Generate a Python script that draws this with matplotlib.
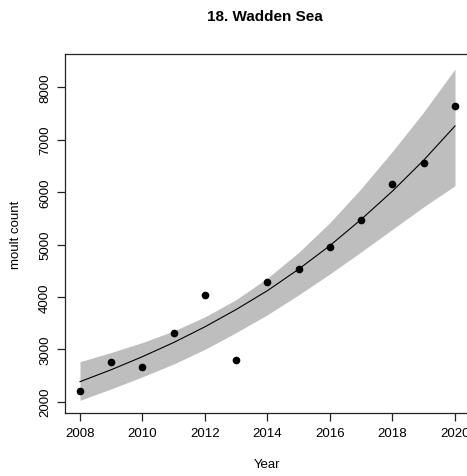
import matplotlib

matplotlib.use("Agg")

import matplotlib.pyplot as plt

plt.rcParams["font.family"] = ["Liberation Sans", "DejaVu Sans"]

YEARS = [2008, 2009, 2010, 2011, 2012, 2013, 2014, 2015, 2016, 2017, 2018, 2019, 2020]
MOULT_COUNT = [2204, 2758, 2656, 3311, 4042, 2796, 4284, 4532, 4958, 5462, 6160, 6550, 7637]
FIT = [2382, 2610, 2860, 3130, 3430, 3760, 4120, 4530, 4980, 5480, 6020, 6610, 7262]
FIT_LOWER = [2025, 2245, 2475, 2720, 3000, 3320, 3660, 4040, 4440, 4860, 5290, 5720, 6122]
FIT_UPPER = [2763, 2940, 3130, 3350, 3620, 3950, 4360, 4850, 5420, 6070, 6780, 7530, 8349]
X_TICKS = [2008, 2010, 2012, 2014, 2016, 2018, 2020]
Y_TICKS = [2000, 3000, 4000, 5000, 6000, 7000, 8000]

fig = plt.figure(figsize=(4.67, 4.77), dpi=100)
ax = fig.add_axes([65 / 467, 63 / 477, 405 / 467, 359 / 477])

ax.fill_between(YEARS, FIT_LOWER, FIT_UPPER, color="#bebebe", linewidth=0)
ax.plot(YEARS, FIT, color="black", linewidth=0.8)
ax.plot(YEARS, MOULT_COUNT, "o", color="black", markersize=4.5)

ax.set_xlim(2007.52, 2020.48)
ax.set_ylim(1784, 8636)
ax.set_xticks(X_TICKS)
ax.set_yticks(Y_TICKS)
ax.set_yticklabels([str(v) for v in Y_TICKS], rotation=90, va="center")
ax.tick_params(axis="both", length=6, width=0.9, labelsize=9.5, pad=4, color="#222222")
for spine in ax.spines.values():
    spine.set_linewidth(0.9)
    spine.set_color("#222222")

ax.set_xlabel("Year", fontsize=9.5, labelpad=14)
ax.set_ylabel("moult count", fontsize=9.5, labelpad=12)
fig.text(265 / 467, 1 - 17 / 477, "18. Wadden Sea", ha="center", va="center",
         fontsize=11, fontweight="bold")

fig.savefig("out.png", dpi=100)
